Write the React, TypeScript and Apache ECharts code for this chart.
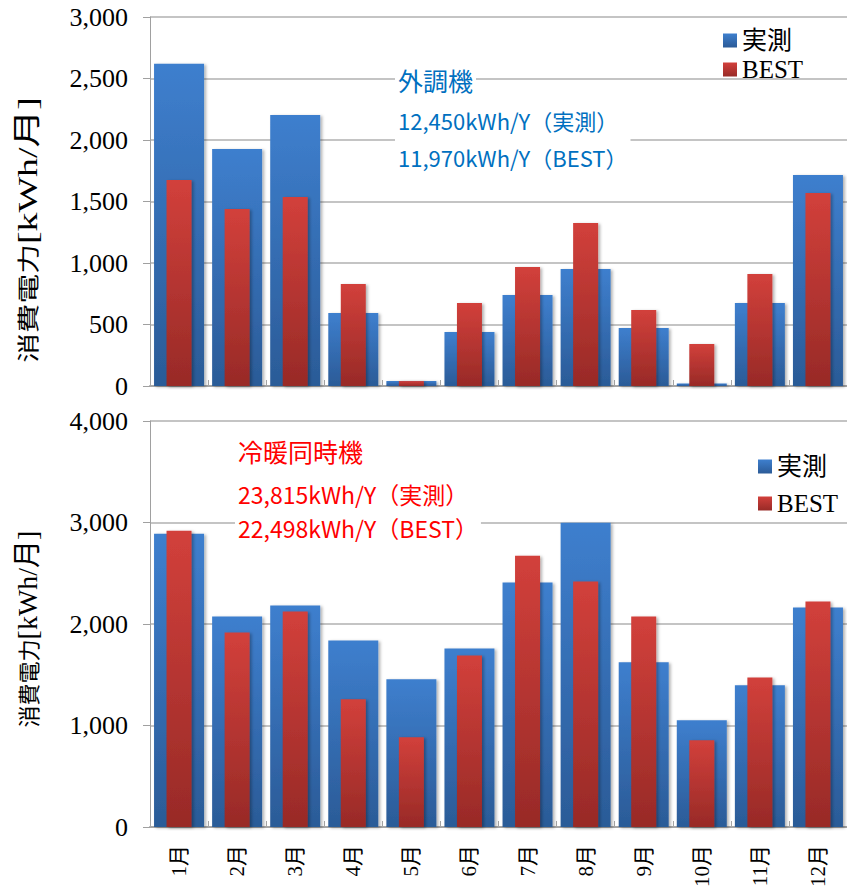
import React, { useEffect, useRef } from "react";
import * as echarts from "echarts";

const months = ["1月", "2月", "3月", "4月", "5月", "6月", "7月", "8月", "9月", "10月", "11月", "12月"];
const topMeasured = [2620, 1927, 2203, 593, 40, 439, 740, 951, 472, 20, 675, 1715];
const topBest = [1675, 1439, 1537, 829, 40, 675, 967, 1325, 618, 341, 910, 1569];
const bottomMeasured = [2889, 2074, 2182, 1838, 1455, 1759, 2408, 2998, 1622, 1052, 1396, 2162];
const bottomBest = [2919, 1916, 2123, 1258, 885, 1690, 2673, 2418, 2074, 855, 1474, 2221];
const seriesNames = ["実測", "BEST"];
const topAxis = { max: 3000, interval: 500 };
const bottomAxis = { max: 4000, interval: 1000 };
const topNotes = ["外調機", "12,450kWh/Y（実測）", "11,970kWh/Y（BEST）"];
const bottomNotes = ["冷暖同時機", "23,815kWh/Y（実測）", "22,498kWh/Y（BEST）"];
const yTitle = ["消費電力", "[kWh/月]"];

const SERIF = "Liberation Serif, Noto Sans CJK JP, serif";
const SANS = "Noto Sans CJK JP, sans-serif";

const blueGrad = () =>
  new echarts.graphic.LinearGradient(0, 0, 0, 1, [
    { offset: 0, color: "#3E7FCE" },
    { offset: 1, color: "#2B5B97" },
  ]);
const redGrad = () =>
  new echarts.graphic.LinearGradient(0, 0, 0, 1, [
    { offset: 0, color: "#D2403B" },
    { offset: 1, color: "#982A27" },
  ]);

export default function App() {
  const ref = useRef<HTMLDivElement>(null);
  useEffect(() => {
    if (!ref.current) return;
    const chart = echarts.init(ref.current, undefined, { renderer: "svg" });
    const grid = [
      { left: 150, top: 17, width: 703, height: 369 },
      { left: 150, top: 421, width: 703, height: 407 },
    ];
    const axisLineStyle = { color: "#A6A6A6", width: 2 };
    const xAxes = [
      {
        type: "category",
        gridIndex: 0,
        data: months,
        axisLine: { show: true, lineStyle: axisLineStyle },
        axisTick: { show: true, inside: true, length: 6, lineStyle: { color: "#A6A6A6", width: 1 } },
        axisLabel: { show: false },
        splitLine: { show: false },
      },
      { type: "category", gridIndex: 0, data: months, show: false },
      {
        type: "category",
        gridIndex: 1,
        position: "bottom",
        data: months,
        axisLine: { show: true, lineStyle: axisLineStyle },
        axisTick: { show: true, inside: true, length: 6, lineStyle: { color: "#A6A6A6", width: 1 } },
        axisLabel: {
          show: true,
          interval: 0,
          rotate: 90,
          margin: 18,
          fontSize: 21,
          color: "#000",
          fontFamily: SERIF,
        },
        splitLine: { show: false },
      },
      { type: "category", gridIndex: 1, data: months, show: false },
    ];
    const mkY = (gi: number, cfg: { max: number; interval: number }) => ({
      type: "value",
      gridIndex: gi,
      min: 0,
      max: cfg.max,
      interval: cfg.interval,
      axisLine: { show: true, lineStyle: { color: "#A0A0A0", width: 1 } },
      axisTick: { show: true, length: 7, lineStyle: { color: "#A0A0A0", width: 1 } },
      axisLabel: {
        margin: 22,
        fontSize: 26,
        color: "#000",
        fontFamily: SERIF,
        formatter: (v: number) => v.toLocaleString("en-US"),
      },
      splitLine: { show: true, lineStyle: { color: "#B0B0B0", width: 1.5 } },
    });
    const shadow = {
      shadowBlur: 3,
      shadowOffsetX: 2,
      shadowOffsetY: 1,
      shadowColor: "rgba(0,0,0,0.3)",
    };
    const mkBar = (name: string, xi: number, yi: number, data: number[], red: boolean) => ({
      type: "bar",
      name,
      xAxisIndex: xi,
      yAxisIndex: yi,
      data,
      barWidth: red ? 25 : 50,
      itemStyle: { color: red ? redGrad() : blueGrad(), ...shadow },
    });
    const legendText = {
      fontSize: 25,
      lineHeight: 24,
      color: "#000",
      fontFamily: SERIF,
    };
    const titleRich = {
      a: { fontFamily: SANS, fontSize: 22, fill: "#000" },
      b: { fontFamily: SERIF, fontSize: 28, fill: "#000" },
    };
    const option: any = {
      animation: false,
      backgroundColor: "#fff",
      grid,
      xAxis: xAxes,
      yAxis: [mkY(0, topAxis), mkY(1, bottomAxis)],
      legend: [
        {
          data: seriesNames,
          orient: "vertical",
          left: 718,
          top: 23,
          itemWidth: 14,
          itemHeight: 14,
          itemGap: 4,
          icon: "rect",
          selectedMode: false,
          textStyle: legendText,
        },
        {
          data: seriesNames,
          orient: "vertical",
          left: 753,
          top: 449,
          itemWidth: 14,
          itemHeight: 14,
          itemGap: 12,
          icon: "rect",
          selectedMode: false,
          textStyle: legendText,
        },
      ],
      series: [
        mkBar(seriesNames[0], 0, 0, topMeasured, false),
        mkBar(seriesNames[1], 1, 0, topBest, true),
        mkBar(seriesNames[0], 2, 1, bottomMeasured, false),
        mkBar(seriesNames[1], 3, 1, bottomBest, true),
      ],
      graphic: [
        {
          type: "text",
          x: 27,
          y: 230,
          rotation: Math.PI / 2,
          scaleX: 1.35,
          z: 100,
          style: {
            text: `{a|${yTitle[0]}}{b|${yTitle[1]}}`,
            rich: titleRich,
            textAlign: "center",
            textVerticalAlign: "middle",
          },
        },
        {
          type: "text",
          x: 27,
          y: 629,
          rotation: Math.PI / 2,
          z: 100,
          style: {
            text: `{a|${yTitle[0]}}{b|${yTitle[1]}}`,
            rich: titleRich,
            textAlign: "center",
            textVerticalAlign: "middle",
          },
        },
        {
          type: "text",
          x: 395,
          y: 80,
          z: 100,
          style: {
            text: topNotes[0],
            fill: "#0070C0",
            font: `25px ${SANS}`,
            textVerticalAlign: "middle",
            backgroundColor: "#fff",
            padding: [2, 3, 2, 3],
          },
        },
        {
          type: "text",
          x: 395,
          y: 101,
          z: 100,
          style: {
            text: topNotes[1] + "\n" + topNotes[2],
            fill: "#0070C0",
            font: `22px ${SANS}`,
            lineHeight: 37,
            textVerticalAlign: "top",
            backgroundColor: "#fff",
            padding: [0, 3, 0, 3],
          },
        },
        {
          type: "text",
          x: 235,
          y: 451,
          z: 100,
          style: {
            text: bottomNotes[0],
            fill: "#FF0000",
            font: `25px ${SANS}`,
            textVerticalAlign: "middle",
            backgroundColor: "#fff",
            padding: [2, 3, 2, 3],
          },
        },
        {
          type: "text",
          x: 235,
          y: 477,
          z: 100,
          style: {
            text: bottomNotes[1] + "\n" + bottomNotes[2],
            fill: "#FF0000",
            font: `23px ${SANS}`,
            lineHeight: 34,
            textVerticalAlign: "top",
            backgroundColor: "#fff",
            padding: [0, 3, 0, 3],
          },
        },
      ],
    };
    chart.setOption(option);
    return () => chart.dispose();
  }, []);
  return (
    <div
      ref={ref}
      style={{ position: "fixed", left: 0, top: 0, width: 847, height: 890, background: "#fff" }}
    />
  );
}
